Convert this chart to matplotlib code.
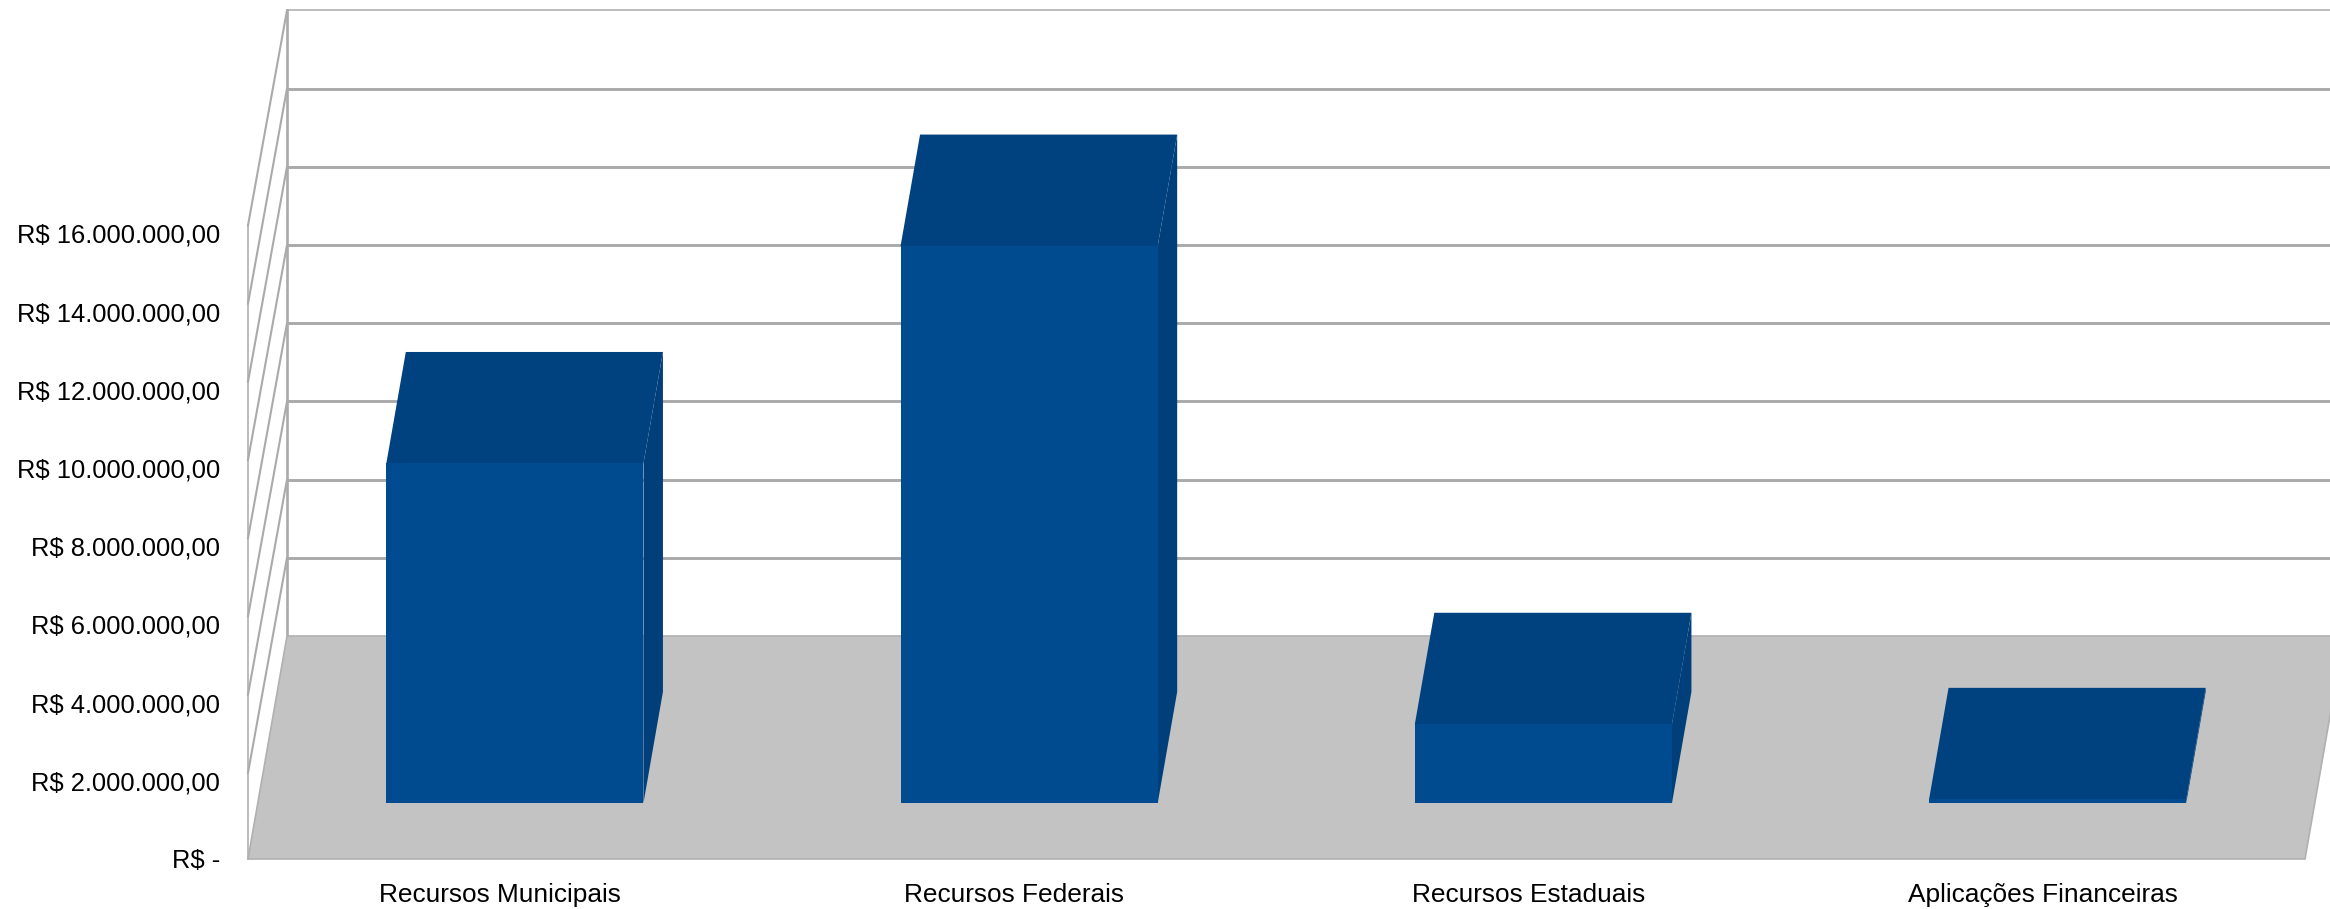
import matplotlib
matplotlib.use("Agg")
import matplotlib.pyplot as plt

plt.rcParams['font.family'] = ['Liberation Sans', 'DejaVu Sans']

categories = ["Recursos Municipais", "Recursos Federais", "Recursos Estaduais", "Aplicações Financeiras"]
values = [8690000, 14250000, 2020000, 100000]
y_ticks = [0, 2000000, 4000000, 6000000, 8000000, 10000000, 12000000, 14000000, 16000000]
y_labels = ["R$ -", "R$ 2.000.000,00", "R$ 4.000.000,00", "R$ 6.000.000,00", "R$ 8.000.000,00",
            "R$ 10.000.000,00", "R$ 12.000.000,00", "R$ 14.000.000,00", "R$ 16.000.000,00"]

W, H = 2330, 909
X0, X1, Y0 = 248, 2305, 859
PX_PER_CAT = (X1 - X0) / len(categories)
PX_PER_VAL = 78.2 / 2000000
DEPTH_X = 39 / PX_PER_CAT
DEPTH_Y = 223 / PX_PER_VAL
WALL_LIFT = 8 / PX_PER_VAL

FRONT = "#004b90"
TOP = "#00417f"
SIDE = "#003f7a"
FLOOR = "#c3c3c3"
GRID = "#aaaaaa"
TOPLINE = "#b8b8b8"


def proj(x, v, d):
    return x + d * DEPTH_X, v + d * DEPTH_Y


def poly(ax, pts, **kw):
    xs, ys = zip(*[proj(*p) for p in pts])
    ax.fill(xs, ys, clip_on=False, **kw)


fig = plt.figure(figsize=(W / 100, H / 100), dpi=100)
ax = fig.add_axes([X0 / W, (H - Y0) / H, (W - X0) / W, Y0 / H])
ax.set_xlim(0, (W - X0) / PX_PER_CAT)
ax.set_ylim(0, Y0 / PX_PER_VAL)
for s in ax.spines.values():
    s.set_visible(False)
ax.patch.set_visible(False)

n = len(categories)
vmax = y_ticks[-1]

# back wall and side wall
for k, t in enumerate(y_ticks):
    bx, by = proj(0, t, 1)
    ex, ey = proj(n, t, 1)
    fx, fy = proj(0, t, 0)
    last = k == len(y_ticks) - 1
    if k > 0:
        ax.plot([bx, ex], [by, ey], color=TOPLINE if last else GRID, lw=1.3 if last else 2.1,
                clip_on=False, zorder=2)
        ax.plot([fx, bx], [fy + WALL_LIFT, by], color=GRID, lw=1.5, clip_on=False, zorder=2)
bx0, by0 = proj(0, 0, 1)
bx1, by1 = proj(0, vmax, 1)
ax.plot([bx0, bx1], [by0, by1], color=GRID, lw=1.9, clip_on=False, zorder=2)
fx0, fy0 = proj(0, 0, 0)
fx1, fy1 = proj(0, vmax, 0)
ax.plot([fx0, fx1], [fy0, fy1 + WALL_LIFT], color=GRID, lw=1.1, clip_on=False, zorder=2)

# floor
poly(ax, [(0, 0, 0), (n, 0, 0), (n, 0, 1), (0, 0, 1)], facecolor=FLOOR, edgecolor="#b0b0b0", linewidth=1.2, zorder=2.5)

# bars
for i, v in enumerate(values):
    x0, x1 = i + 0.25, i + 0.75
    d0, d1 = 0.25, 0.75
    poly(ax, [(x1, 0, d0), (x1, 0, d1), (x1, v, d1), (x1, v, d0)], facecolor=SIDE, edgecolor="none", zorder=3)
    poly(ax, [(x0, v, d0), (x1, v, d0), (x1, v, d1), (x0, v, d1)], facecolor=TOP, edgecolor="none", zorder=4)
    poly(ax, [(x0, 0, d0), (x1, 0, d0), (x1, v, d0), (x0, v, d0)], facecolor=FRONT, edgecolor="none", zorder=5)

ax.set_yticks(y_ticks)
ax.set_yticklabels(y_labels, fontsize=18.4, color="black")
ax.set_xticks([i + 0.49 for i in range(n)])
ax.set_xticklabels(categories, fontsize=18.9, color="black")
ax.tick_params(axis="y", length=0, pad=20)
ax.tick_params(axis="x", length=0, pad=17)

fig.savefig("out.png", dpi=100)
